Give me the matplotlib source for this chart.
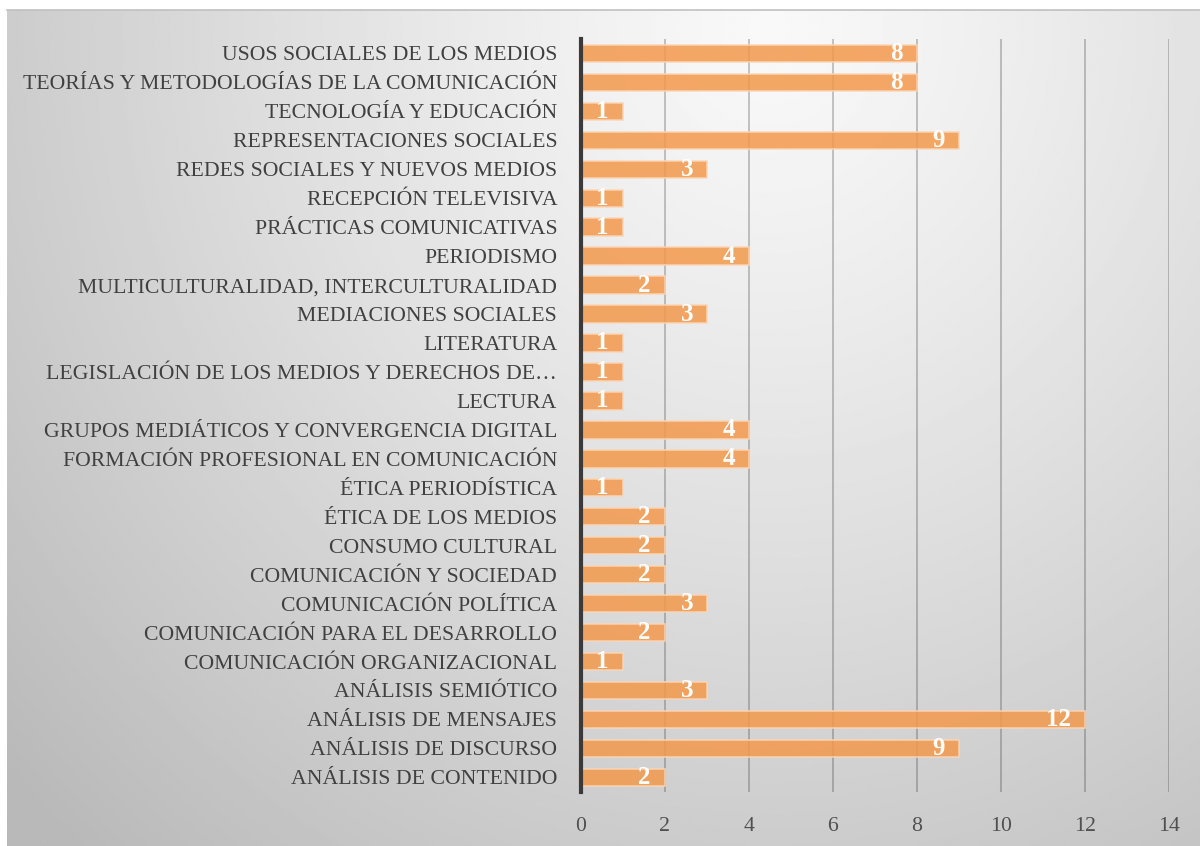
import matplotlib
matplotlib.use("Agg")
import matplotlib.pyplot as plt
from matplotlib import font_manager
import numpy as np

# categories bottom -> top, as drawn
temas = [
    "ANÁLISIS DE CONTENIDO",
    "ANÁLISIS DE DISCURSO",
    "ANÁLISIS DE MENSAJES",
    "ANÁLISIS SEMIÓTICO",
    "COMUNICACIÓN ORGANIZACIONAL",
    "COMUNICACIÓN PARA EL DESARROLLO",
    "COMUNICACIÓN POLÍTICA",
    "COMUNICACIÓN Y SOCIEDAD",
    "CONSUMO CULTURAL",
    "ÉTICA DE LOS MEDIOS",
    "ÉTICA PERIODÍSTICA",
    "FORMACIÓN PROFESIONAL EN COMUNICACIÓN",
    "GRUPOS MEDIÁTICOS Y CONVERGENCIA DIGITAL",
    "LECTURA",
    "LEGISLACIÓN DE LOS MEDIOS Y DERECHOS DE…",
    "LITERATURA",
    "MEDIACIONES SOCIALES",
    "MULTICULTURALIDAD, INTERCULTURALIDAD",
    "PERIODISMO",
    "PRÁCTICAS COMUNICATIVAS",
    "RECEPCIÓN TELEVISIVA",
    "REDES SOCIALES Y NUEVOS MEDIOS",
    "REPRESENTACIONES SOCIALES",
    "TECNOLOGÍA Y EDUCACIÓN",
    "TEORÍAS Y METODOLOGÍAS DE LA COMUNICACIÓN",
    "USOS SOCIALES DE LOS MEDIOS",
]
cantidad = [2, 9, 12, 3, 1, 2, 3, 2, 2, 2, 1, 4, 4, 1, 1, 1, 3, 2, 4, 1, 1, 3, 9, 1, 8, 8]
xticks = [0, 2, 4, 6, 8, 10, 12, 14]

names = set(f.name for f in font_manager.fontManager.ttflist)
if "DejaVu Serif Condensed" in names:
    serif = "DejaVu Serif Condensed"
    lab_size = 16.5
else:
    serif = "Liberation Serif"
    lab_size = 15.7

fig = plt.figure(figsize=(12, 8.46), dpi=100)
fig.patch.set_facecolor("white")

# gray gradient backdrop, lightest near the top middle
bg = fig.add_axes([0.006, 0.0, 0.994, 0.988])
ny, nx = 300, 400
yy, xx = np.mgrid[0:1:ny * 1j, 0:1:nx * 1j]
r = np.sqrt(((xx - 0.64) / 0.72) ** 2 + ((yy - 0.02) / 1.1) ** 2)
shade = 0.975 - 0.2 * np.clip(r, 0, 1.2) ** 1.2
bg.imshow(shade, cmap="gray", vmin=0, vmax=1, aspect="auto", extent=[0, 1, 1, 0])
bg.set_axis_off()
fig.add_artist(plt.Line2D([0.006, 1], [0.988, 0.988], color="#c0c0c0", lw=1.2))

ax = fig.add_axes([0.484, 0.064, 0.49, 0.89])
ax.patch.set_alpha(0)
y = np.arange(len(temas))
ax.barh(y, cantidad, height=0.6, color="#f3994c", alpha=0.85,
        edgecolor="#fbd6b6", linewidth=1.2, zorder=3)

for yi, v in zip(y, cantidad):
    ax.text(v - 0.33, yi, str(v), ha="right", va="center", color="white",
            fontsize=18, fontweight="bold", family=serif, zorder=4)

ax.set_xlim(0, 14)
ax.set_ylim(-0.5, len(temas) - 0.5)
ax.set_xticks(xticks)
ax.set_yticks(y)
ax.set_yticklabels(temas, family=serif, fontsize=lab_size, color="#404040")
ax.set_xticklabels([str(t) for t in xticks], family=serif, fontsize=lab_size, color="#505050")
ax.tick_params(axis="both", length=0)
ax.tick_params(axis="y", pad=17)
ax.tick_params(axis="x", pad=18)
ax.xaxis.grid(True, color="#202020", lw=1.4, alpha=0.25, zorder=1)
ax.set_axisbelow(True)
for s in ["top", "right", "bottom"]:
    ax.spines[s].set_visible(False)
ax.spines["left"].set_color("#3a3a3a")
ax.spines["left"].set_linewidth(3)
ax.spines["left"].set_zorder(5)

fig.savefig("out.png", dpi=100)
